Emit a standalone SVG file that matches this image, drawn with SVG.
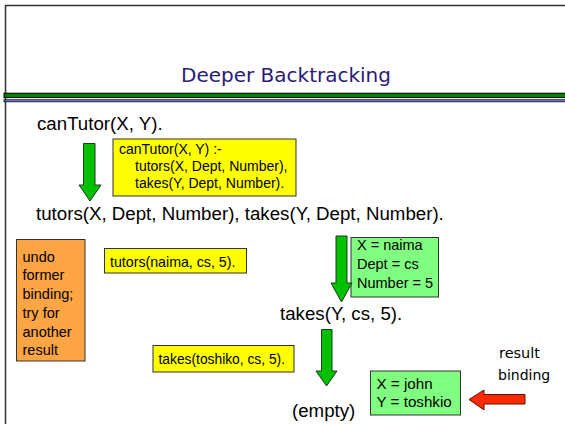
<svg xmlns="http://www.w3.org/2000/svg" width="565" height="424" viewBox="0 0 565 424">
<style>
.t{font-family:"Liberation Sans",Arial,sans-serif;fill:#000}
.big{font-size:18.7px}
.yb{fill:#ffff00;stroke:#333;stroke-width:1}
.gb{fill:#80ff80;stroke:#333;stroke-width:1}
.ga{fill:#00c000;stroke:#1a3a1a;stroke-width:1}
.comic{font-family:"DejaVu Sans",sans-serif}
</style>
<rect width="565" height="424" fill="#fff"/>
<g id="frame">
<line x1="5" y1="5.5" x2="565" y2="5.5" stroke="#333" stroke-width="1.5"/>
<line x1="5.5" y1="5" x2="5.5" y2="424" stroke="#333" stroke-width="1.5"/>
<rect x="4" y="93.2" width="565" height="4.4" fill="#008000" stroke="#000" stroke-width="1"/>
<rect x="4" y="99.8" width="565" height="2" fill="#8080ff" stroke="#000" stroke-width="0.8"/>
</g>
<g id="title">
<text class="comic" x="286" y="82" font-size="20" fill="#2b1b78" text-anchor="middle">Deeper Backtracking</text>
</g>
<g id="goal1"><text class="t big" x="37" y="130">canTutor(X, Y).</text></g>
<g id="rule">
<rect class="yb" x="113" y="139" width="183" height="57"/>
<text class="t" font-size="14" x="119" y="154">canTutor(X, Y) :-</text>
<text class="t" font-size="14" x="135" y="171">tutors(X, Dept, Number),</text>
<text class="t" font-size="14" x="135" y="187.5">takes(Y, Dept, Number).</text>
</g>
<g id="goal2"><text class="t big" x="36" y="220">tutors(X, Dept, Number), takes(Y, Dept, Number).</text></g>
<g id="undo">
<rect x="16.5" y="239.5" width="68.5" height="121.5" fill="#ffa543" stroke="#333" stroke-width="1"/>
<text class="t" font-size="14.5" x="22.5" y="261.5">undo</text>
<text class="t" font-size="14.5" x="22.5" y="280">former</text>
<text class="t" font-size="14.5" x="22.5" y="298.5">binding;</text>
<text class="t" font-size="14.5" x="22.5" y="318">try for</text>
<text class="t" font-size="14.5" x="22.5" y="337">another</text>
<text class="t" font-size="14.5" x="22.5" y="355">result</text>
</g>
<g id="fact1">
<rect class="yb" x="104.5" y="248.5" width="142" height="24.5"/>
<text class="t" font-size="14.2" x="110" y="266.5">tutors(naima, cs, 5).</text>
</g>
<g id="bind1">
<rect class="gb" x="351" y="237.5" width="87.5" height="59.5"/>
<text class="t" font-size="14.5" x="357" y="250">X = naima</text>
<text class="t" font-size="14.5" x="357" y="269">Dept = cs</text>
<text class="t" font-size="14.5" x="357" y="288">Number = 5</text>
</g>
<g id="goal3"><text class="t big" x="280" y="320">takes(Y, cs, 5).</text></g>
<g id="fact2">
<rect class="yb" x="153" y="345.5" width="141" height="26.5"/>
<text class="t" font-size="13.8" x="158.5" y="364">takes(toshiko, cs, 5).</text>
</g>
<g id="goal4"><text class="t big" x="292" y="417">(empty)</text></g>
<g id="result">
<rect class="gb" x="370.5" y="371" width="90" height="44"/>
<text class="t" font-size="15.2" x="376.5" y="389">X = john</text>
<text class="t" font-size="15.2" x="376.5" y="407">Y = toshkio</text>
</g>
<g id="resultLabel">
<text class="comic" font-size="14.5" x="499" y="358">result</text>
<text class="comic" font-size="14" x="498" y="380">binding</text>
</g>
<g id="connectors">
<polygon class="ga" points="83.5,143.5 95,143.5 95,185 101,185 90,201 79,185 83.5,185"/>
<polygon class="ga" points="336,236 347,236 347,283 352,283 341.5,302 331,283 336,283"/>
<polygon class="ga" points="321.5,329.5 332,329.5 332,371 337,371 326.5,386 316,371 321.5,371"/>
<polygon fill="#ff2a00" stroke="#5a1000" stroke-width="1" points="469,399.5 484,390 484,394.5 525,394.5 525,404 484,404 484,410"/>
</g>
</svg>
